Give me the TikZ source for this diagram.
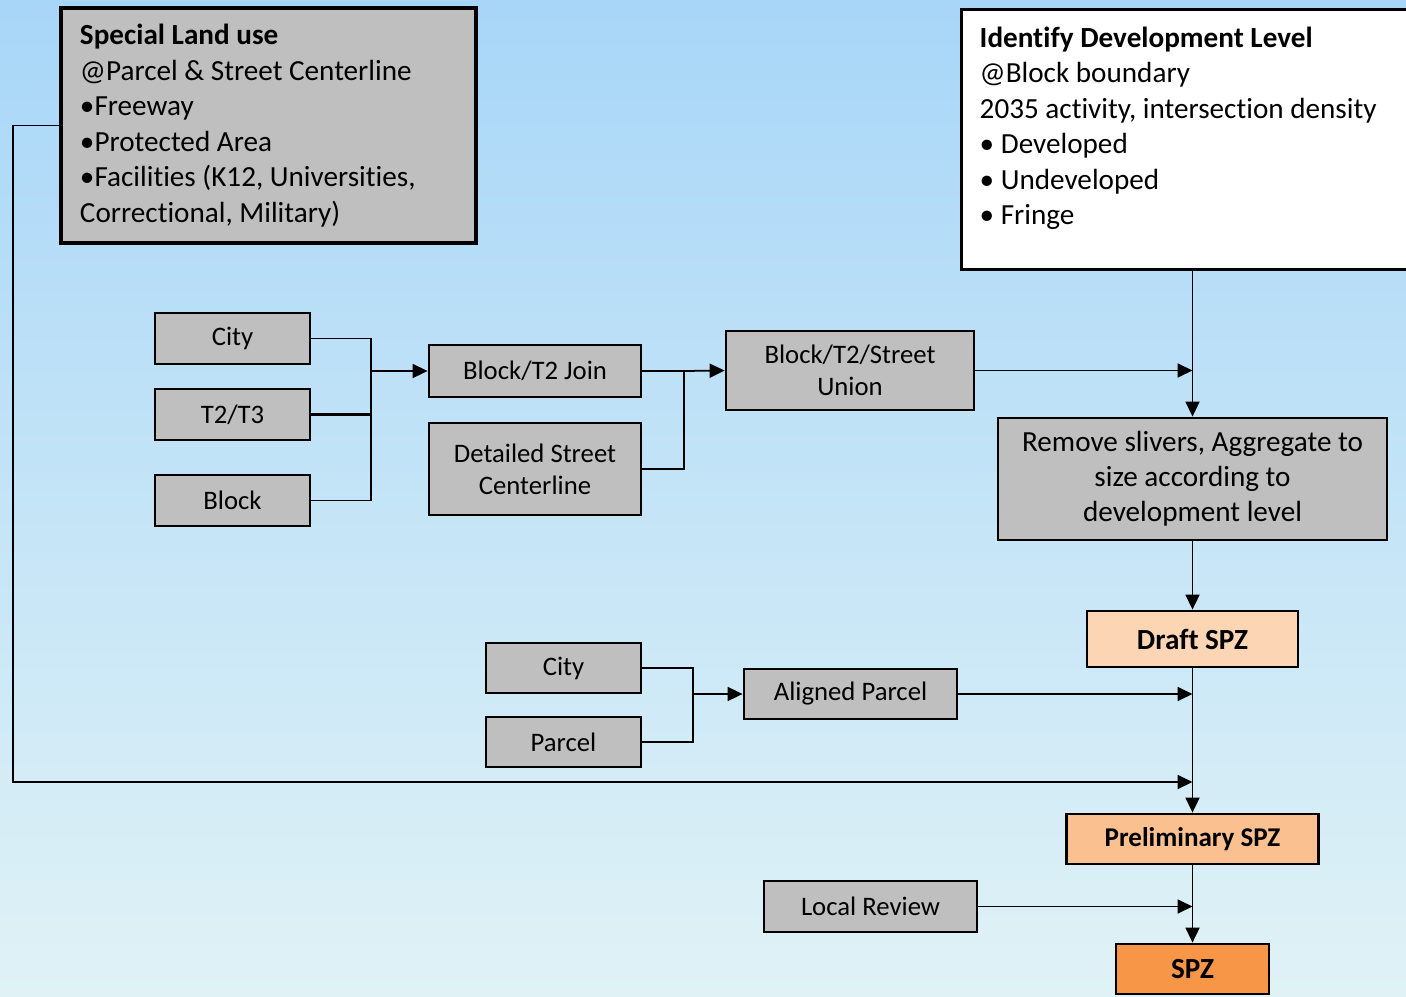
\documentclass[tikz,border=0pt]{standalone}
\usepackage{fontspec}
\setmainfont[Ligatures=NoCommon]{Carlito}
\usetikzlibrary{arrows.meta, positioning, calc}
\definecolor{skytop}{RGB}{168,214,248}
\definecolor{skybottom}{RGB}{224,242,246}
\definecolor{boxgray}{RGB}{191,191,191}
\definecolor{draftpeach}{RGB}{252,213,180}
\definecolor{prelimorange}{RGB}{250,192,144}
\definecolor{spzorange}{RGB}{247,150,70}

\begin{document}
\begin{tikzpicture}[
    font=\fontsize{8.3}{10.1}\selectfont,
    databox/.style={draw, line width=0.8pt, fill=boxgray, align=center, inner sep=1pt, font=\fontsize{7.6}{9.1}\selectfont},
    bigbox/.style={draw, line width=0.9pt, align=flush left},
    spzbox/.style={draw, line width=0.8pt, font=\fontsize{8.3}{10}\selectfont\bfseries, inner sep=1pt},
    arrow/.style={-{Triangle[length=1.5mm, width=1.4mm]}, line width=0.5pt},
    link/.style={line width=0.5pt}
]

% Background
\shade[top color=skytop, bottom color=skybottom] (0,0) rectangle (14.06,-9.96);
\useasboundingbox (0,0) rectangle (14.06,-9.96);

% Top boxes
\node[bigbox, fill=boxgray, text width=3.77cm, inner xsep=0.19cm, minimum height=2.35cm] (slu) at (2.685,-1.255) {
    \textbf{Special Land use}\\
    @Parcel \& Street Centerline\\
    •Freeway\\
    •Protected Area\\
    •Facilities (K12, Universities,\\
    Correctional, Military)
};
\node[bigbox, fill=white, anchor=north west, minimum width=4.6cm, minimum height=2.6cm] (idl) at (9.60,-0.08) {};
\node[anchor=north west, align=left, inner sep=0pt] (idltext) at (9.79,-0.26) {
    \textbf{Identify Development Level}\\
    @Block boundary\\
    2035 activity, intersection density\\
    • Developed\\
    • Undeveloped\\
    • Fringe
};

% Block inputs
\node[databox, minimum width=1.55cm, minimum height=0.51cm] (city) at (2.325,-3.385) {City};
\node[databox, minimum width=1.55cm, minimum height=0.51cm] (t2t3) at (2.325,-4.145) {T2/T3};
\node[databox, minimum width=1.55cm, minimum height=0.51cm] (block) at (2.325,-5.005) {Block};
\node[databox, minimum width=2.12cm, minimum height=0.52cm] (join) at (5.35,-3.71) {Block/T2 Join};
\node[databox, minimum width=2.12cm, minimum height=0.92cm] (street) at (5.35,-4.69) {Detailed Street\\Centerline};
\node[databox, minimum width=2.48cm, minimum height=0.79cm] (union) at (8.50,-3.705) {Block/T2/Street\\Union};
\node[databox, minimum width=3.89cm, minimum height=1.22cm, font=\fontsize{8.3}{10}\selectfont] (remove) at (11.925,-4.79) {Remove slivers, Aggregate to\\size according to\\development level};

% Parcel inputs
\node[databox, minimum width=1.55cm, minimum height=0.50cm] (city2) at (5.635,-6.68) {City};
\node[databox, minimum width=1.55cm, minimum height=0.50cm] (parcel) at (5.635,-7.42) {Parcel};
\node[databox, minimum width=2.13cm, minimum height=0.50cm] (aligned) at (8.505,-6.94) {Aligned Parcel};
\node[databox, minimum width=2.13cm, minimum height=0.51cm] (review) at (8.705,-9.065) {Local Review};

% SPZ stages
\node[spzbox, fill=draftpeach, minimum width=2.11cm, minimum height=0.56cm] (draft) at (11.925,-6.39) {Draft SPZ};
\node[spzbox, fill=prelimorange, minimum width=2.52cm, minimum height=0.50cm, font=\fontsize{7.7}{9}\selectfont\bfseries] (prelim) at (11.925,-8.39) {Preliminary SPZ};
\node[spzbox, fill=spzorange, minimum width=1.53cm, minimum height=0.50cm] (spz) at (11.925,-9.69) {SPZ};

% Join of city, T2/T3 and block
\coordinate (jbus) at (3.71,-3.71);
\draw[link] (city.east) -| (jbus);
\draw[link] (block.east) -| (jbus);
\draw[link, line width=0.9pt] (t2t3.east) -- (t2t3.east -| jbus);
\draw[arrow] (jbus) -- (join.west);

% Union with street centerline
\coordinate (ubus) at (6.84,-3.71);
\draw[link] (street.east) -| (ubus);
\draw[link] (join.east) -- (ubus);
\draw[arrow] (ubus) -- (union.west);

% Main trunk
\draw[arrow] (remove.north |- idl.south) -- (remove.north);
\draw[arrow] (union.east) -- (union.east -| remove.north);
\draw[arrow] (remove.south) -- (draft.north);
\draw[arrow] (draft.south) -- (prelim.north);
\draw[arrow] (prelim.south) -- (spz.north);

% Parcel alignment
\coordinate (pbus) at (6.93,-6.94);
\draw[link] (city2.east) -| (pbus);
\draw[link] (parcel.east) -| (pbus);
\draw[arrow] (pbus) -- (aligned.west);
\draw[arrow] (aligned.east) -- (aligned.east -| draft.south);

% Special land use rail
\coordinate (rail) at (0.13,-7.82);
\draw[arrow] (slu.west) -| (rail) -- (rail -| prelim.north);

% Local review
\draw[arrow] (review.east) -- (review.east -| prelim.south);

\end{tikzpicture}
\end{document}
